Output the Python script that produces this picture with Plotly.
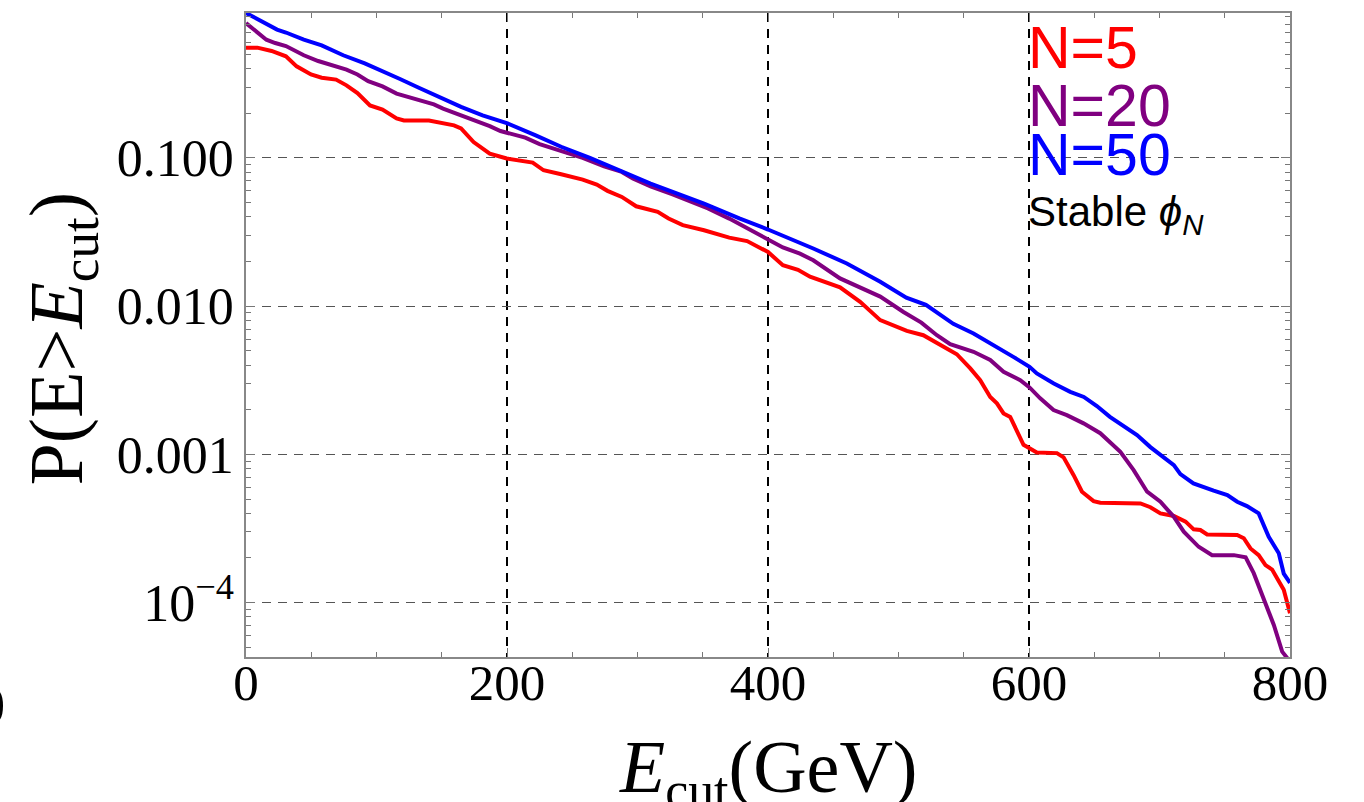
import plotly.graph_objects as go

# ---- data ----
E_N5 = [0, 8.7, 19.6, 30.6, 38.8, 49.8, 58, 69, 77, 85.4, 95, 104.6, 115.4, 121, 140.2,
        151, 159.4, 164.8, 174.4, 186.8, 199.8, 219.7, 228, 241.5, 258, 268.8, 277, 288,
        299, 315.5, 323.8, 334.7, 351, 370.3, 384, 400, 411.4, 423, 432.2, 455.2, 470.6,
        486, 498.7, 506.4, 519, 526.8, 534.5, 544.7, 555, 562.6, 570.3, 575.4, 580.5,
        585.6, 595.8, 606, 621.4, 626.5, 634.2, 640.6, 649.5, 654.6, 685.4, 693, 700.7,
        711, 720, 726.2, 731.3, 736.5, 759.5, 764.6, 769.7, 776, 781.2, 786.3, 790.1,
        795.2, 800]
P_N5 = [0.555, 0.555, 0.527, 0.485, 0.415, 0.366, 0.348, 0.338, 0.309, 0.274, 0.226, 0.212,
        0.185, 0.179, 0.179, 0.171, 0.166, 0.158, 0.128, 0.107, 0.0991, 0.0931, 0.0826,
        0.0776, 0.0714, 0.0661, 0.0600, 0.0546, 0.0472, 0.0433, 0.0390, 0.0352, 0.0325,
        0.0290, 0.0275, 0.0232, 0.0189, 0.0176, 0.0158, 0.0134, 0.0107, 0.00805, 0.00724,
        0.00681, 0.00637, 0.00583, 0.00526, 0.00474, 0.00380, 0.00317, 0.00244, 0.00221,
        0.00189, 0.00179, 0.00116, 0.00103, 0.00102, 0.000955, 0.000724, 0.000560,
        0.000484, 0.000472, 0.000467, 0.000440, 0.000400, 0.000384, 0.000352, 0.000312,
        0.000309, 0.000288, 0.000286, 0.000272, 0.000232, 0.000209, 0.000179, 0.000167,
        0.000146, 0.000122, 0.0000847]

E_N20 = [0, 8.7, 15.6, 22.4, 30.6, 44.3, 55.3, 77, 85.4, 93.6, 104.6, 115.4, 132, 144, 151,
         165, 175.8, 186.8, 195, 214, 225, 241.5, 258, 274.4, 288, 296.4, 310, 326.4, 337.4,
         354, 370.3, 386.7, 400, 411.4, 424.5, 434.7, 455.2, 475.7, 486, 503.8, 517.5,
         529.4, 539.6, 557.5, 570.3, 580.5, 593.3, 600.4, 608.6, 618.8, 629, 641.8, 654.6,
         670, 680.2, 690.5, 700.7, 711, 718.6, 730, 740.3, 757, 766, 772.2, 780, 787.6,
         794, 800]
P_N20 = [0.813, 0.708, 0.628, 0.596, 0.569, 0.493, 0.451, 0.394, 0.366, 0.330, 0.304, 0.272,
         0.245, 0.230, 0.215, 0.194, 0.178, 0.164, 0.152, 0.137, 0.124, 0.111, 0.100,
         0.0879, 0.0805, 0.0726, 0.0644, 0.0569, 0.0519, 0.0456, 0.0390, 0.0325, 0.0279,
         0.0249, 0.0226, 0.0204, 0.0154, 0.0128, 0.0116, 0.00914, 0.00775, 0.00637,
         0.00555, 0.00492, 0.00433, 0.00361, 0.00317, 0.00283, 0.00239, 0.00199, 0.00184,
         0.00162, 0.00139, 0.00104, 0.000783, 0.000560, 0.000479, 0.000379, 0.000301,
         0.000238, 0.000209, 0.000209, 0.000202, 0.000158, 0.000104, 0.0000706,
         0.0000467, 0.0000400]

E_N50 = [0, 23.8, 30.6, 44.3, 58, 74.5, 91, 104.6, 118, 132, 148.4, 164.8, 181.3, 199.8,
         222, 241.5, 263.5, 288, 310, 329, 351, 378.5, 400, 434.7, 460.4, 486, 506, 521,
         542, 557.5, 575.4, 588, 600.4, 606, 619, 631.6, 642, 652, 662, 672.5, 682.8, 693,
         703, 711, 716, 726, 741.5, 752, 759.5, 767, 776, 783.7, 791.4, 795.2, 800]
P_N50 = [0.951, 0.735, 0.702, 0.628, 0.575, 0.493, 0.434, 0.386, 0.341, 0.299, 0.255, 0.221,
         0.194, 0.172, 0.142, 0.119, 0.100, 0.0805, 0.0671, 0.0581, 0.0492, 0.0390,
         0.0329, 0.0245, 0.0194, 0.0146, 0.0114, 0.0102, 0.0076, 0.00655, 0.00532,
         0.00455, 0.00390, 0.00352, 0.00301, 0.00264, 0.00244, 0.00212, 0.00179, 0.00155,
         0.00135, 0.00112, 0.000964, 0.000847, 0.000736, 0.000637, 0.000569, 0.000532,
         0.000479, 0.000448, 0.000400, 0.000278, 0.000215, 0.000157, 0.000136]

series_names = ["N=5", "N=20", "N=50"]
series_colors = ["#FF0000", "#800080", "#0000FF"]

x_tickvals = [0, 200, 400, 600, 800]
x_ticktext = ["0", "200", "400", "600", "800"]
y_tickvals = [1e-4, 1e-3, 1e-2, 1e-1]
y_ticktext = ["10<sup>\u22124</sup>", "0.001", "0.010", "0.100"]
y_minorvals = [k * 10.0 ** n for n in range(-5, 0) for k in range(2, 10)]

SERIF = "Liberation Serif, Times New Roman, serif"
SANS = "Liberation Sans, Arial, Helvetica, sans-serif"

fig = go.Figure()
for xs, ys, name, col in zip([E_N5, E_N20, E_N50], [P_N5, P_N20, P_N50],
                             series_names, series_colors):
    fig.add_trace(go.Scatter(x=xs, y=ys, mode="lines", name=name,
                             line=dict(color=col, width=4)))

fig.update_layout(
    width=1364, height=802,
    margin=dict(l=246, r=74, t=13, b=145),
    paper_bgcolor="white", plot_bgcolor="white",
    showlegend=False,
    font=dict(family=SERIF, color="black"),
)

fig.update_xaxes(
    range=[0, 800], automargin=False,
    tickvals=x_tickvals, ticktext=x_ticktext,
    tickfont=dict(family=SERIF, size=51, color="black"),
    ticklabelstandoff=-20,
    ticks="inside", ticklen=9, tickwidth=1.3, tickcolor="#777777",
    showline=True, linecolor="#888888", linewidth=1.5, mirror="allticks",
    showgrid=True, gridcolor="black", gridwidth=1.8, griddash="9px,7px",
    zeroline=False,
    minor=dict(dtick=50, ticks="inside", ticklen=5, tickcolor="#777777", showgrid=False),
)
fig.update_yaxes(
    type="log", range=[-4.367, -0.022], automargin=False,
    tickvals=y_tickvals, ticktext=y_ticktext,
    tickfont=dict(family=SERIF, size=52, color="black"),
    ticks="inside", ticklen=9, tickwidth=1.3, tickcolor="#777777",
    showline=True, linecolor="#888888", linewidth=1.5, mirror="allticks",
    showgrid=True, gridcolor="#555555", gridwidth=1.3, griddash="9px,7px",
    zeroline=False,
    minor=dict(tickvals=y_minorvals, ticks="inside", ticklen=5, tickcolor="#777777",
               showgrid=False),
)

# axis titles
fig.add_annotation(text="<i>E</i><sub>cut</sub>(GeV)", xref="paper", yref="paper",
                   x=0.5, y=-0.179, xanchor="center", yanchor="middle", showarrow=False,
                   font=dict(family=SERIF, size=74, color="black"))
fig.add_annotation(text="P(E&gt;<i>E</i><sub>cut</sub>)", xref="paper", yref="paper",
                   x=-0.176, y=0.495, xanchor="center", yanchor="middle", showarrow=False,
                   textangle=-90, font=dict(family=SERIF, size=76, color="black"))

# in-plot legend text
legend_y = [0.946, 0.856, 0.779]
for name, col, yy in zip(series_names, series_colors, legend_y):
    fig.add_annotation(text=name, xref="paper", yref="paper", x=0.7475, y=yy,
                       xanchor="left", yanchor="middle", showarrow=False,
                       font=dict(family=SANS, size=59, color=col))
fig.add_annotation(text="Stable <i>\u03d5</i><sub><i>N</i></sub>", xref="paper", yref="paper",
                   x=0.7475, y=0.687, xanchor="left", yanchor="middle", showarrow=False,
                   font=dict(family=SANS, size=42, color="black"))

# partially cropped label at the far left edge of the reference
fig.add_annotation(text="0", xref="paper", yref="paper", x=-0.243, y=-0.076,
                   xanchor="center", yanchor="middle", showarrow=False,
                   font=dict(family=SERIF, size=52, color="black"))

# remove the default page margin so the figure fills the window exactly
fig.write_html("out.html",
               config={"displayModeBar": False},
               post_script="document.body.style.margin='0px';"
                           "document.body.style.overflow='hidden';")
